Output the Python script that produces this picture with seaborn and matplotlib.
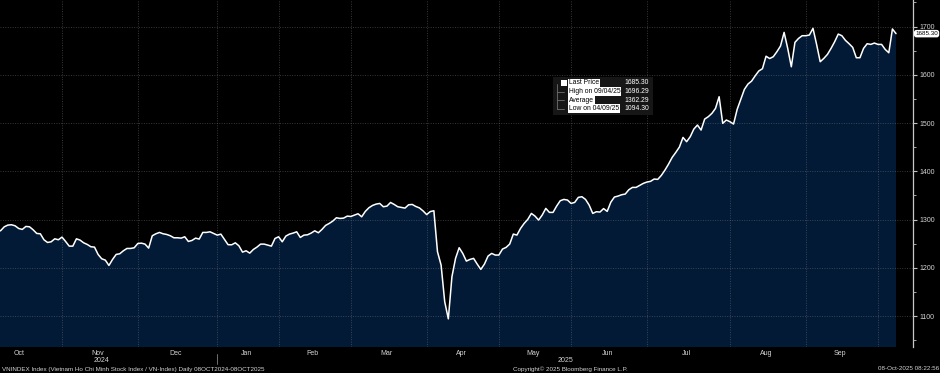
import matplotlib
matplotlib.use('Agg')
import matplotlib.pyplot as plt
import matplotlib.ticker as mticker
import matplotlib.transforms as mtransforms
import seaborn as sns
import pandas as pd
import numpy as np

# daily closes, VN-Index, 08OCT2024 -> 08OCT2025
closes = [
    1275.0, 1277.0, 1285.0, 1288.6, 1289.3, 1287.2, 1281.6, 1279.6, 1285.8, 1285.1,
    1278.9, 1271.3, 1270.6, 1258.2, 1252.6, 1254.0, 1260.2, 1258.2, 1263.7, 1254.7,
    1245.0, 1245.0, 1260.2, 1257.5, 1251.9, 1248.5, 1243.7, 1243.0, 1227.8, 1218.8,
    1216.0, 1205.0, 1217.4, 1227.8, 1229.2, 1235.4, 1240.2, 1240.2, 1241.6, 1250.5,
    1251.2, 1249.2, 1240.9, 1266.5, 1270.6, 1273.4, 1270.6, 1269.2, 1266.5, 1262.3,
    1262.3, 1261.6, 1264.4, 1254.7, 1256.8, 1261.6, 1259.6, 1273.4, 1273.4, 1274.7,
    1271.3, 1267.8, 1269.9, 1258.9, 1248.0, 1247.8, 1251.9, 1245.7, 1232.6, 1235.4,
    1230.5, 1238.1, 1243.0, 1249.2, 1249.2, 1247.1, 1245.0, 1260.9, 1264.4, 1254.0,
    1265.8, 1269.9, 1272.0, 1274.7, 1263.0, 1267.8, 1268.5, 1272.0, 1276.8, 1272.7,
    1279.6, 1287.9, 1292.0, 1296.9, 1303.8, 1302.4, 1303.1, 1307.2, 1306.5, 1309.3,
    1312.1, 1305.8, 1316.9, 1324.5, 1329.3, 1332.1, 1333.5, 1326.6, 1327.9, 1335.5,
    1331.4, 1326.6, 1325.2, 1323.8, 1330.7, 1331.4, 1327.2, 1324.2, 1318.0, 1310.4,
    1316.6, 1318.3, 1233.4, 1205.7, 1129.8, 1094.3, 1181.6, 1219.6, 1241.7, 1229.9,
    1214.0, 1217.5, 1219.6, 1207.8, 1196.8, 1207.8, 1224.4, 1229.9, 1226.5, 1226.5,
    1238.9, 1242.4, 1249.3, 1270.0, 1267.9, 1281.7, 1292.1, 1300.4, 1312.8, 1307.3,
    1299.0, 1309.4, 1323.2, 1314.9, 1314.9, 1328.0, 1339.1, 1341.8, 1340.5, 1333.5,
    1335.6, 1346.0, 1347.4, 1341.8, 1330.1, 1312.8, 1316.3, 1315.6, 1322.8, 1317.0,
    1336.0, 1346.7, 1348.7, 1351.5, 1352.9, 1361.9, 1366.7, 1366.7, 1370.9, 1375.0,
    1377.8, 1379.2, 1384.0, 1383.3, 1391.6, 1402.6, 1415.1, 1428.9, 1439.2, 1450.3,
    1470.3, 1461.4, 1471.7, 1487.6, 1495.9, 1485.5, 1508.3, 1513.2, 1520.1, 1530.4,
    1554.6, 1499.4, 1506.3, 1502.8, 1498.0, 1528.4, 1549.1, 1569.8, 1580.9, 1587.0,
    1598.0, 1608.0, 1612.6, 1638.5, 1633.7, 1637.5, 1647.8, 1659.6, 1687.9, 1654.7,
    1616.7, 1667.2, 1675.4, 1681.0, 1681.0, 1682.4, 1696.29, 1663.0, 1627.1, 1634.0,
    1642.3, 1654.7, 1668.5, 1684.4, 1681.0, 1671.3, 1664.4, 1656.8, 1635.4, 1635.4,
    1654.7, 1664.4, 1663.0, 1665.8, 1663.0, 1663.0, 1652.6, 1645.7, 1695.0, 1685.30,
]

# exchange holidays (no trading day on the axis)
holidays = ['2025-01-01', '2025-01-27', '2025-01-28', '2025-01-29', '2025-01-30',
            '2025-01-31', '2025-04-07', '2025-04-30', '2025-05-01', '2025-05-02',
            '2025-09-01', '2025-09-02']

y_ticks = [1100, 1200, 1300, 1400, 1500, 1600, 1700]
legend_labels = ['Last Price', 'High on 09/04/25', 'Average', 'Low on 04/09/25']
legend_values = ['1685.30', '1696.29', '1362.29', '1094.30']
last_label = '1685.30'

BG = '#000000'
FILL = '#021a36'
TXT = '#d4d4d4'

sns.set_theme(style='dark', rc={'axes.facecolor': BG, 'figure.facecolor': BG})
plt.rcParams['font.family'] = ['Liberation Sans', 'DejaVu Sans']

# trading-day calendar, x = trading day number (Bloomberg style, no gaps)
days = pd.bdate_range('2024-10-01', '2025-10-31')
days = days[~days.isin(pd.to_datetime(holidays))]
cal = pd.DataFrame({'date': days})
cal['idx'] = np.arange(len(cal)) - cal.index[cal.date == pd.Timestamp('2024-10-08')][0]
cal['month'] = cal.date.dt.to_period('M')

df = cal[(cal.idx >= 0) & (cal.idx < len(closes))].copy()
df['close'] = closes

month_first = cal.groupby('month').idx.min()
month_mid = cal.groupby('month').idx.mean()

fig = plt.figure(figsize=(9.4, 3.73), dpi=100)
ax = fig.add_axes([0, 1 - 347 / 373, 913 / 940, 347 / 373])
ax.set_facecolor(BG)

ax.fill_between(df.idx, df.close, 900, color=FILL, linewidth=0, zorder=1)
sns.lineplot(data=df, x='idx', y='close', color='white', linewidth=1.1, ax=ax, zorder=3)

x0, x1 = 0.83, 253.7
ax.set_xlim(x0, x1)
ax.set_ylim(1036, 1755)

# grid
ax.set_axisbelow(False)
grid_x = [v for v in month_first.values if x0 < v < x1]
ax.set_xticks(grid_x)
ax.set_xticklabels([])
mids = [(v, m.strftime('%b')) for m, v in month_mid.items() if x0 < v < x1 - 5]
ax.set_xticks([v for v, _ in mids], minor=True)
ax.set_xticklabels([t for _, t in mids], minor=True)
ax.tick_params(axis='x', which='major', length=3, color='#808080', direction='out')
ax.tick_params(axis='x', which='minor', length=0, pad=2, labelsize=5, labelcolor=TXT)

ax.yaxis.tick_right()
ax.set_yticks(y_ticks)
ax.yaxis.set_minor_locator(mticker.MultipleLocator(50))
ax.tick_params(axis='y', which='major', length=3, width=0.8, color='#c0c0c0', direction='out',
               pad=2, labelsize=5, labelcolor=TXT)
ax.tick_params(axis='y', which='minor', length=2, width=0.6, color='#c0c0c0', direction='out')
ax.grid(True, which='major', color='#8a8a8a', alpha=0.4, linestyle=(0, (1, 1.5)), linewidth=0.7)
ax.set_xlabel('')
ax.set_ylabel('')

for s in ['top', 'left', 'bottom']:
    ax.spines[s].set_visible(False)
ax.spines['right'].set_color('#c8c8c8')
ax.spines['right'].set_linewidth(0.9)

# year labels and separator
trans = mtransforms.blended_transform_factory(ax.transData, ax.transAxes)
jan = month_first[pd.Period('2025-01', 'M')]
ax.text((x0 + jan) / 2 - 2, -0.04, '2024', transform=trans, ha='center', va='center',
        fontsize=5, color=TXT, clip_on=False)
ax.text((jan + x1) / 2, -0.04, '2025', transform=trans, ha='center', va='center',
        fontsize=5, color=TXT, clip_on=False)
ax.plot([jan, jan], [-0.02, -0.048], transform=trans, color='#808080', lw=0.6, clip_on=False)

# last price tag
ax.annotate(last_label, xy=(1.0, df.close.iloc[-1]), xycoords=('axes fraction', 'data'),
            xytext=(1.6, 0), textcoords='offset points', ha='left', va='center',
            fontsize=4.5, color='black', annotation_clip=False,
            bbox=dict(boxstyle='round,pad=0.2,rounding_size=0.4', fc='white', ec='none'))

# legend box
W, H = 940, 373
fig.patches.append(plt.Rectangle((553 / W, 1 - 115 / H), 100 / W, 38 / H, transform=fig.transFigure,
                                 facecolor='#161616', edgecolor='none', zorder=5))
rows_y = [83, 91.5, 100, 108.5]
for i, (lab, val) in enumerate(zip(legend_labels, legend_values)):
    y = 1 - rows_y[i] / H
    fig.text(569 / W, y, lab, fontsize=4.9, color='black', ha='left', va='center', zorder=6,
             bbox=dict(boxstyle='square,pad=0.08', fc='white', ec='none'))
    fig.text(649 / W, y, val, fontsize=4.9, color='white', ha='right', va='center', zorder=6)
    if i == 0:
        fig.patches.append(plt.Rectangle((561 / W, y - 3 / H), 6 / W, 6 / H, transform=fig.transFigure,
                                         facecolor='white', edgecolor='none', zorder=6))
    else:
        fig.lines.append(plt.Line2D([557 / W, 564 / W], [y, y], transform=fig.transFigure,
                                    color='#707070', lw=0.6, zorder=6))
fig.lines.append(plt.Line2D([557 / W, 557 / W], [1 - 84 / H, 1 - 108.5 / H], transform=fig.transFigure,
                            color='#707070', lw=0.6, zorder=6))

# footer
fig.text(2 / W, 1 - 369 / H, 'VNINDEX Index (Vietnam Ho Chi Minh Stock Index / VN-Index) Daily 08OCT2024-08OCT2025',
         fontsize=4.5, color=TXT, ha='left', va='center')
fig.text(513 / W, 1 - 369 / H, 'Copyright\u00a9 2025 Bloomberg Finance L.P.',
         fontsize=4.5, color=TXT, ha='left', va='center')
fig.text(939 / W, 1 - 369 / H, '08-Oct-2025 08:22:56',
         fontsize=4.5, color=TXT, ha='right', va='center')

fig.savefig('out.png', dpi=100, facecolor=BG)
